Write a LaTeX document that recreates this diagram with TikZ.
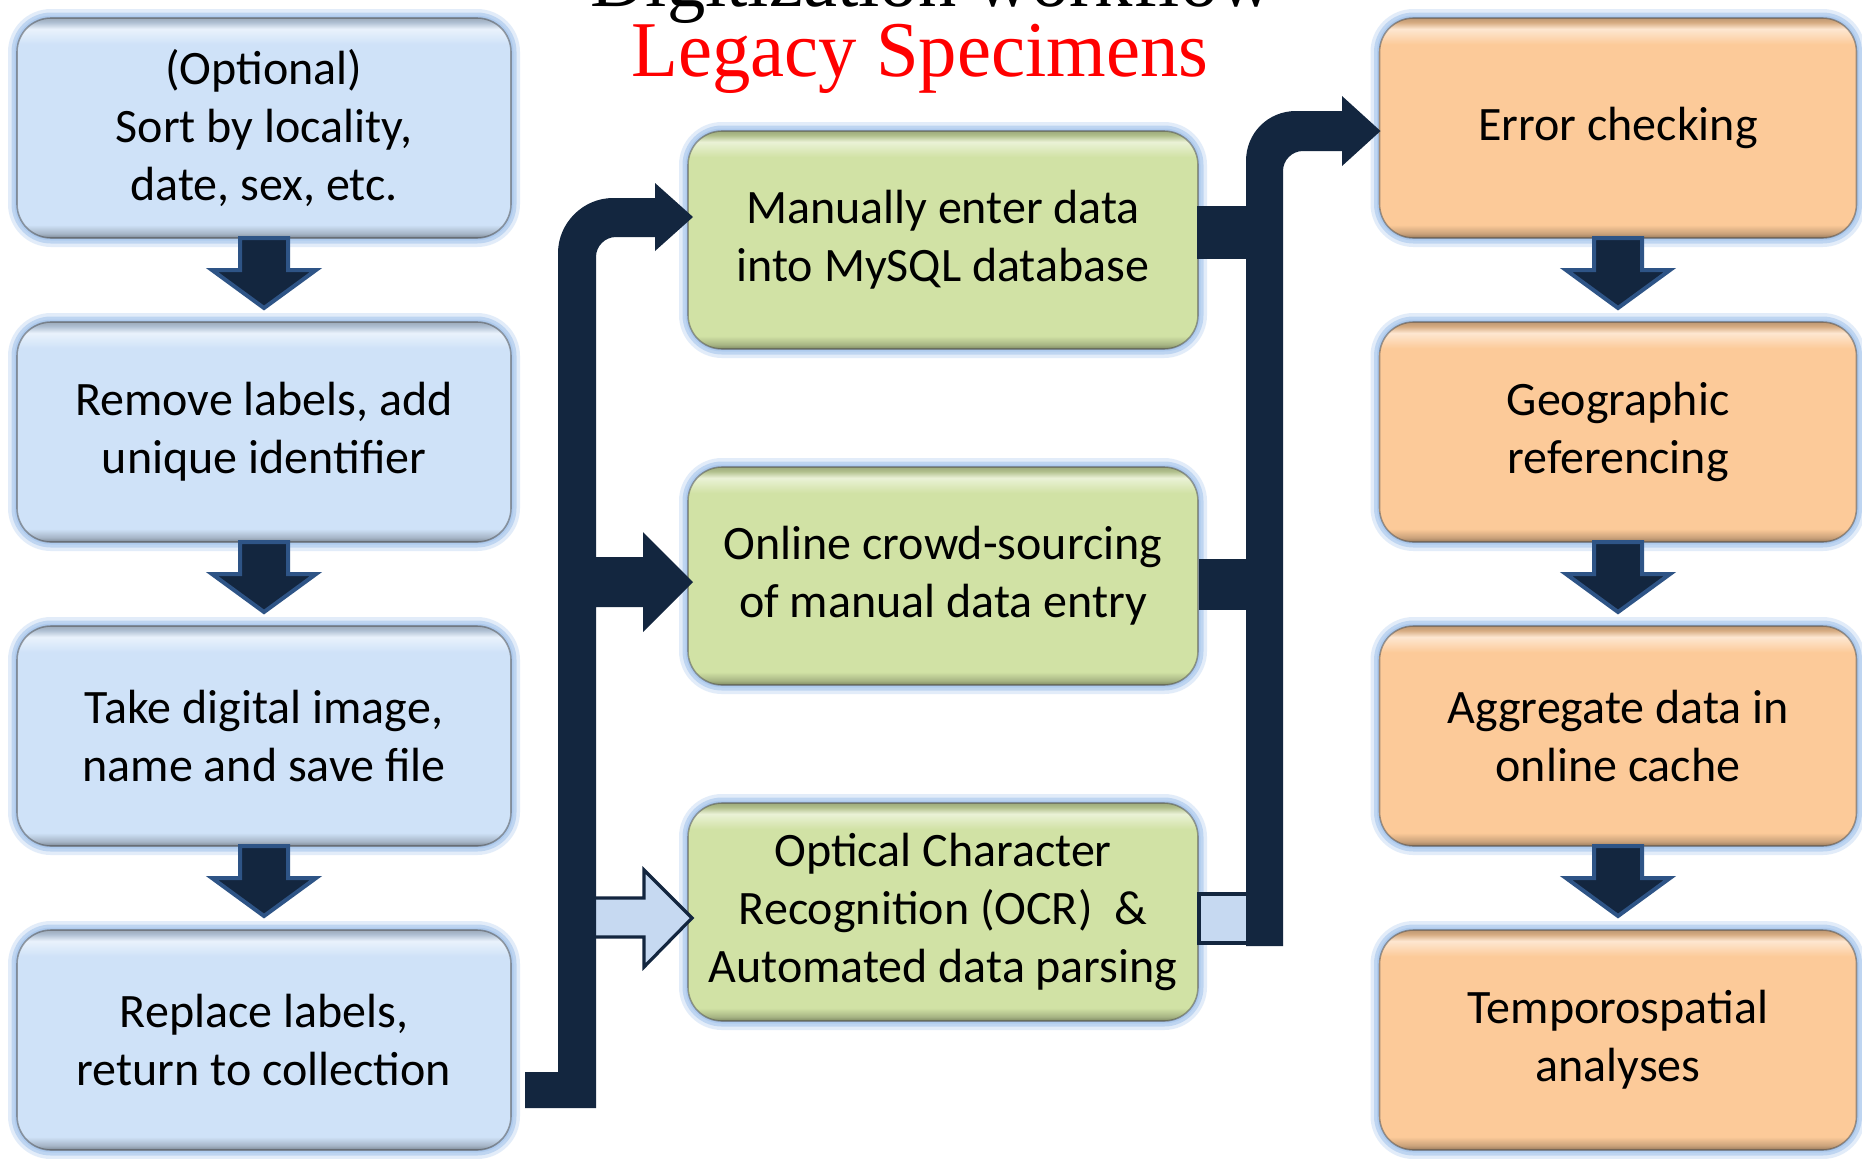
\documentclass[tikz,border=0pt]{standalone}
\usepackage{fontspec}
\setmainfont{Carlito}
\newfontfamily\titlefont{Liberation Serif}
\usetikzlibrary{calc}
\definecolor{navy}{HTML}{13263F}
\definecolor{arrowedge}{HTML}{2E5486}
\definecolor{bluefill}{HTML}{CFE2F8}
\definecolor{greenfill}{HTML}{D1E2A5}
\definecolor{orangefill}{HTML}{FCCA99}
\definecolor{glowc}{HTML}{A2C3EC}
\definecolor{lightarrow}{HTML}{C6D9F1}
\definecolor{titlered}{HTML}{FF0000}
\pgfdeclareverticalshading{shBlue}{100bp}{color(0bp)=(bluefill!60!black); color(25bp)=(bluefill!60!black); color(26bp)=(bluefill!80!black); color(28bp)=(bluefill); color(69bp)=(bluefill); color(72.5bp)=(bluefill!45!white); color(74bp)=(bluefill!85!black); color(75bp)=(bluefill!75!black); color(100bp)=(bluefill!75!black)}
\pgfdeclareverticalshading{shGreen}{100bp}{color(0bp)=(greenfill!60!black); color(25bp)=(greenfill!60!black); color(26bp)=(greenfill!80!black); color(28bp)=(greenfill); color(69bp)=(greenfill); color(72.5bp)=(greenfill!45!white); color(74bp)=(greenfill!85!black); color(75bp)=(greenfill!75!black); color(100bp)=(greenfill!75!black)}
\pgfdeclareverticalshading{shOrange}{100bp}{color(0bp)=(orangefill!60!black); color(25bp)=(orangefill!60!black); color(26bp)=(orangefill!80!black); color(28bp)=(orangefill); color(69bp)=(orangefill); color(72.5bp)=(orangefill!45!white); color(74bp)=(orangefill!85!black); color(75bp)=(orangefill!75!black); color(100bp)=(orangefill!75!black)}
\tikzset{
  flowbox/.style={rectangle, rounded corners=17pt, outer sep=0pt, inner sep=0pt,
    align=center, font=\fontsize{24}{29}\selectfont,
    preaction={draw=glowc, line width=9pt, draw opacity=0.3},
    preaction={draw=glowc, line width=5.5pt, draw opacity=0.55},
    preaction={draw=glowc, line width=2.5pt},
    shade, draw=gray!60!black, draw opacity=0.5, line width=0.8pt},
  leftbox/.style={flowbox, shading=shBlue, minimum width=247pt, minimum height=110pt},
  midbox/.style={flowbox, shading=shGreen, minimum width=255pt, minimum height=109pt},
  rightbox/.style={flowbox, shading=shOrange, minimum width=238.5pt, minimum height=110pt},
  dnarrow/.style={fill=navy, draw=arrowedge, line width=2pt, line join=miter},
  busarrow/.style={fill=navy, draw=none},
  lightbar/.style={fill=lightarrow, draw=navy, line width=1.6pt, line join=miter},
  titletext/.style={font=\titlefont\fontsize{39.5}{44}\selectfont, inner sep=0pt, anchor=base, xscale=0.97}
}
\newcommand{\downarrowbetween}[2]{%
  \draw[dnarrow] ($(#1.south)+(-24,0)$) -- ($(#1.south)+(-24,32)$) -- ($(#1.south)+(-52,32)$)
    -- ($(#2.north)+(0,-14)$) -- ($(#1.south)+(52,32)$) -- ($(#1.south)+(24,32)$)
    -- ($(#1.south)+(24,0)$) -- cycle;}
\begin{document}
\begin{tikzpicture}[x=0.5pt, y=-0.5pt]
\useasboundingbox (0,0) rectangle (1862,1158);
\clip (0,0) rectangle (1862,1158);
\fill[white] (0,0) rectangle (1862,1158);

% titles
\node[titletext] (t1) at (932,6) {Digitization workflow};
\node[titletext, text=titlered] (t2) at (920,76) {Legacy Specimens};

% left column
\node[leftbox] (l1) at (264,128) {(Optional)\\Sort by locality,\\date, sex, etc.};
\node[leftbox] (l2) at (264,432) {Remove labels, add\\unique identifier};
\node[leftbox] (l3) at (264,736) {Take digital image,\\name and save file};
\node[leftbox] (l4) at (264,1040) {Replace labels,\\return to collection};

% middle column
\node[midbox] (m1) at (943,240) {Manually enter data\\into MySQL database};
\node[midbox] (m2) at (943,576) {Online crowd-sourcing\\of manual data entry};
\node[midbox] (m3) at (943,912) {Optical Character\\Recognition (OCR)~~\&\\Automated data parsing};

% right column
\node[rightbox] (r1) at (1618,128) {Error checking};
\node[rightbox] (r2) at (1618,432) {Geographic\\referencing};
\node[rightbox] (r3) at (1618,736) {Aggregate data in\\online cache};
\node[rightbox] (r4) at (1618,1040) {Temporospatial\\analyses};

% down arrows
\downarrowbetween{l1}{l2}
\downarrowbetween{l2}{l3}
\downarrowbetween{l3}{l4}
\downarrowbetween{r1}{r2}
\downarrowbetween{r2}{r3}
\downarrowbetween{r3}{r4}

% left bus: light arrow to OCR box
\draw[lightbar] (590,898) -- (644,898) -- (644,870) -- ($(m3.west)+(4,6)$) -- (644,967) -- (644,937) -- (590,937);
% left bus (dark)
\fill[busarrow] ($(l4.east)+(14,32)$) -- (558,1072) -- (558,253)
  .. controls (558,223) and (583,198) .. (613,198) -- (655,198) -- (655,183)
  -- ($(m1.west)+(5,-23)$) -- (655,251) -- (655,237) -- (616,237)
  .. controls (605,237) and (596,246) .. (596,257) -- (596,557) -- (643,557) -- (643,532)
  -- ($(m2.west)+(5,6)$) -- (643,632) -- (643,607) -- (596,607) -- (596,1108)
  -- ($(l4.east)+(14,68)$) -- cycle;

% right bus: stubs from the middle boxes
\fill[busarrow] ($(m1.east)+(-1,-34)$) rectangle (1250,259);
\fill[busarrow] ($(m2.east)+(1,-17)$) rectangle (1250,610);
\draw[lightbar] ($(m3.east)+(1,-18)$) rectangle (1250,943);
\fill[busarrow] (1246,946) -- (1246,161)
  .. controls (1246,133) and (1268,111) .. (1296,111) -- (1342,111) -- (1342,96)
  -- ($(r1.west)+(1,3)$) -- (1342,166) -- (1342,151) -- (1303,151)
  .. controls (1292,151) and (1283,160) .. (1283,171) -- (1283,946) -- cycle;
\end{tikzpicture}
\end{document}
